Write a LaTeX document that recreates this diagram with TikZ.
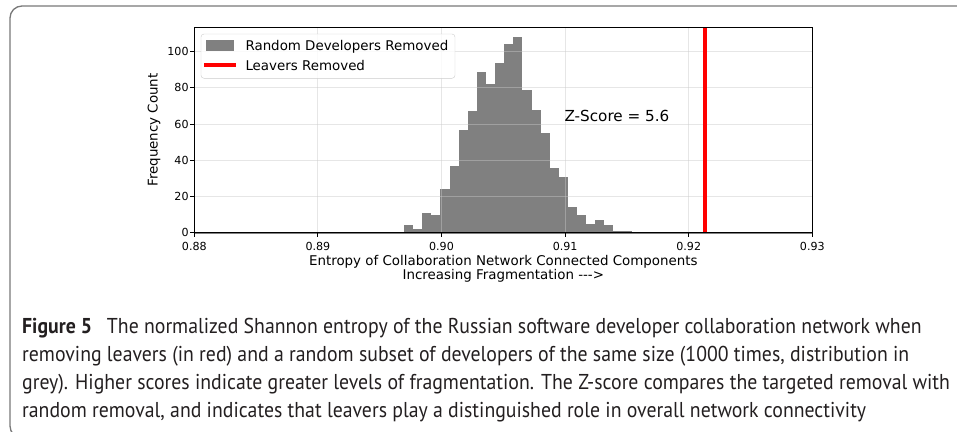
\documentclass[tikz,border=0pt]{standalone}
\usepackage{fontspec}
\newfontfamily\plotfont{DejaVu Sans}
\newfontfamily\capfont{PT Sans}[FakeStretch=0.92]
\definecolor{framegray}{RGB}{120,120,120}
\definecolor{gridgray}{RGB}{200,200,200}
\definecolor{legendedge}{RGB}{204,204,204}
\definecolor{captext}{RGB}{35,31,32}

\begin{document}
\begin{tikzpicture}[x=1pt, y=-1pt,
    bar/.style={fill=gray},
    gridline/.style={draw=gridgray, line width=1pt, opacity=0.45},
    leaver/.style={draw=red, line width=4pt},
    axisline/.style={draw=black, line width=0.9pt},
    ticklab/.style={font=\plotfont\fontsize{11.1}{13}\selectfont, inner sep=0pt},
    labtext/.style={font=\plotfont\fontsize{13.4}{16}\selectfont, inner sep=0pt},
    ztext/.style={font=\plotfont\fontsize{15.2}{18}\selectfont, inner sep=0pt},
    captxt/.style={font=\capfont\fontsize{21.5}{27.7}\selectfont, text=captext, inner sep=0pt, align=left}
  ]
  \useasboundingbox (0,0) rectangle (957,431);
  \clip (0,0) rectangle (957,431);

  % outer frame
  \draw[framegray, line width=1.3pt, rounded corners=12pt] (10,6) rectangle (995,438);

  % histogram, x in units of 0.001 from 0.88
  \begin{scope}[shift={(194.3,232.7)}, x=12.36pt, y=1.81pt]
    \foreach \h [count=\i from 0] in {4,2,11,10,24,37,57,67,89,82,94,104,108,79,68,55,36,31,14,10,5,7,4,1,1}
      \fill[bar] ({16.966+0.7369*\i},0) rectangle ++(0.7369,\h);
    \draw[gray, line width=1.6pt] (0,0) -- (50,0);
    \foreach \gx in {10,20,30,40}
      \draw[gridline] (\gx,0) -- (\gx,113.6);
    \foreach \gy in {20,40,...,100}
      \draw[gridline] (0,\gy) -- (50,\gy);
    \draw[leaver] (41.32,0) -- (41.32,113.6);
    \draw[axisline] (0,0) rectangle (50,113.6);
    \foreach \gx/\lab in {0/0.88,10/0.89,20/0.90,30/0.91,40/0.92,50/0.93} {
      \draw[axisline] (\gx,0) -- ++(0,-4pt);
      \node[ticklab, anchor=base] at ([yshift=-17.3pt]\gx,0) {\lab};
    }
    \foreach \gy in {0,20,...,100} {
      \draw[axisline] (0,\gy) -- ++(-4pt,0);
      \node[ticklab, anchor=east] at ([xshift=-5.5pt]0,\gy) {\gy};
    }
    \node[ztext, anchor=base west] (zscore) at (29.94,61.7) {Z-Score = 5.6};
  \end{scope}

  % legend
  \draw[legendedge, fill=white, fill opacity=0.8, rounded corners=3pt] (201,34) rectangle (455,78.3);
  \fill[gray] (205.7,40) rectangle (234.3,50.7);
  \node[labtext, anchor=base west] (randlab) at (245.3,50.7) {Random Developers Removed};
  \draw[red, line width=3.6pt] (204,65) -- (236,65);
  \node[labtext, anchor=base west] (leavlab) at (245.3,70) {Leavers Removed};

  % axis labels
  \node[labtext, anchor=base] (xlab) at (503.3,265.3) {Entropy of Collaboration Network Connected Components};
  \node[labtext, anchor=base] (xlabb) at (503.3,279.3) {Increasing Fragmentation -{}-{}->};
  \node[labtext, rotate=90] (ylab) at (154,130) {Frequency Count};

  % caption
  \node[captxt, anchor=base west] (caption) at (22,417) {\textbf{Figure 5}\hspace{0.45em} The normalized Shannon entropy of the Russian software developer collaboration network when\\
    removing leavers (in red) and a random subset of developers of the same size (1000 times, distribution in\\
    grey). Higher scores indicate greater levels of fragmentation. The Z-score compares the targeted removal with\\
    random removal, and indicates that leavers play a distinguished role in overall network connectivity};
\end{tikzpicture}
\end{document}
